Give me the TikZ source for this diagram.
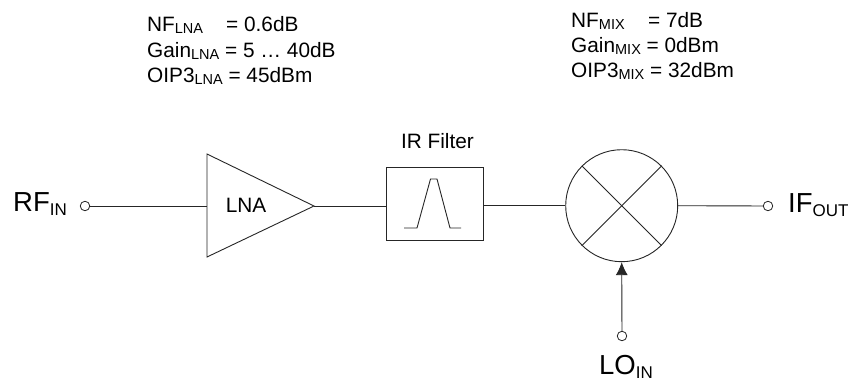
\documentclass[tikz,border=0pt]{standalone}
\usepackage{fontspec}
\setmainfont{Liberation Sans}
\newcommand{\subt}[1]{\raisebox{-2.5pt}{\fontsize{14.5}{14.5}\selectfont #1}}
\newcommand{\subbig}[1]{\raisebox{-4.5pt}{\fontsize{17}{17}\selectfont #1}}
\usetikzlibrary{arrows.meta}
\tikzset{
  ln/.style={draw=black!85,line width=0.9pt},
  term/.style={circle,draw=black!85,line width=0.8pt,fill=white,minimum size=9.5pt,inner sep=0pt},
  sm/.style={anchor=base west,inner sep=0pt,font=\fontsize{20.8}{20.8}\selectfont},
  big/.style={anchor=base west,inner sep=0pt,font=\fontsize{27.5}{27.5}\selectfont},
  mid/.style={inner sep=0pt,font=\fontsize{20.8}{20.8}\selectfont},
  arrowhd/.style={-{Latex[length=13pt,width=12pt]}}
}
\begin{document}
\begin{tikzpicture}[x=1pt,y=-1pt]
\useasboundingbox (0,0) rectangle (851,381);
\fill[white] (0,0) rectangle (851,381);
% shapes
\coordinate (ta) at (207,154);
\coordinate (tb) at (207,257);
\coordinate (tc) at (314,206);
\coordinate (lnain) at (207,206);
\draw[ln,line join=miter] (ta) -- (tc) -- (tb) -- cycle;
\node[mid] (lna) at (246,205) {LNA};
\node[draw=black!85,line width=0.9pt,minimum width=97pt,minimum height=73pt,inner sep=0pt] (filt) at (434.5,203.5) {};
\node[circle,draw=black!85,line width=0.9pt,minimum size=112pt,inner sep=0pt] (mix) at (621.7,205.7) {};
\draw[ln] (mix.north west) -- (mix.south east);
\draw[ln] (mix.north east) -- (mix.south west);
\draw[ln] (404,228) -- (417,228) -- (430.5,179) -- (437,179) -- (450,228) -- (461,228);
% terminals
\node[term] (rf) at (85,206) {};
\node[term] (ifo) at (768,206) {};
\node[term] (lo) at (622,336) {};
% connectors
\draw[ln] (rf) -- (lnain);
\draw[ln] (tc) -- (filt.west |- tc);
\draw[ln] (filt.east |- mix.west) -- (mix.west);
\draw[ln] (mix.east) -- (ifo);
\draw[ln,arrowhd] (lo) -- (mix.south);
% labels
\node[big] (rflab) at (13,211) {RF\subbig{IN}};
\node[big] (iflab) at (788,212) {IF\subbig{OUT}};
\node[big] (lolab) at (599,374) {LO\subbig{IN}};
\node[mid,anchor=base] (irlab) at (437.5,148) {IR Filter};
% parameters
\node[sm] (a1) at (147,31) {NF\subt{LNA}};
\node[sm] (a1v) at (226,31) {= 0.6dB};
\node[sm] (a2) at (147,57) {Gain\subt{LNA} = 5 … 40dB};
\node[sm] (a3) at (147,82) {OIP3\subt{LNA} = 45dBm};
\node[sm] (b1) at (571,27) {NF\subt{MIX}};
\node[sm] (b1v) at (648,27) {= 7dB};
\node[sm] (b2) at (571,52) {Gain\subt{MIX} = 0dBm};
\node[sm] (b3) at (571,77) {OIP3\subt{MIX} = 32dBm};
\end{tikzpicture}
\end{document}
